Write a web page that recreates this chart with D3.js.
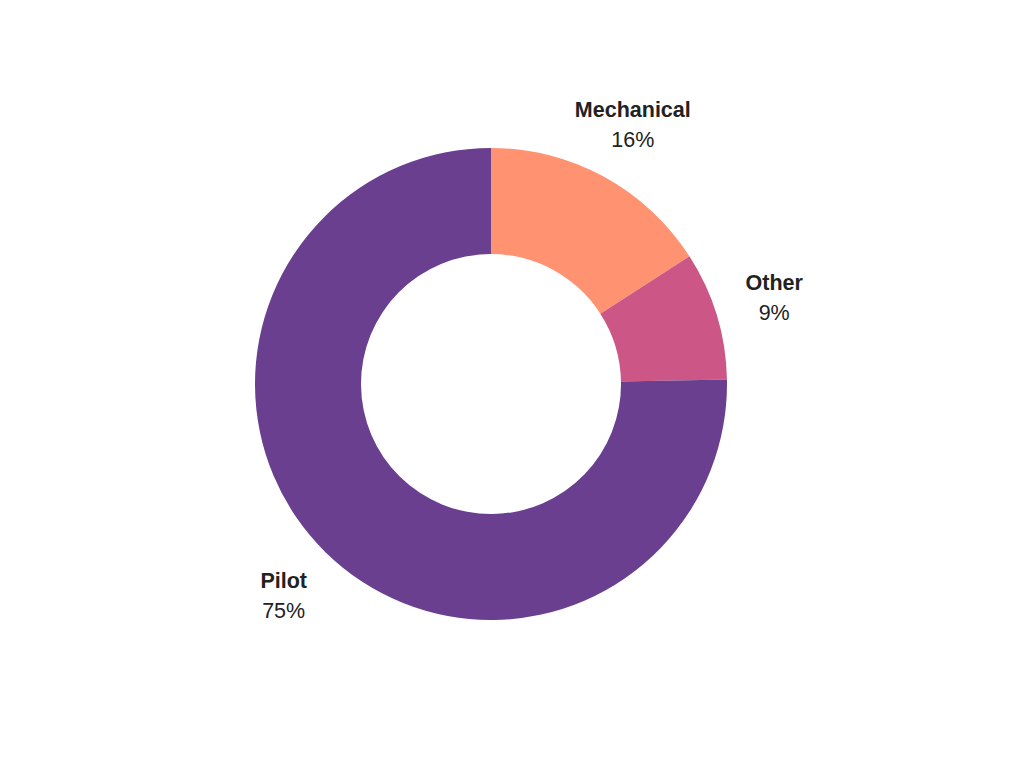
<!DOCTYPE html>
<html>
  <head>
    <meta charset="utf-8">
    <script src="https://d3js.org/d3.v7.min.js"></script>
    <style>
      body { margin: 0; background: #fff; }
      svg text {
        font-family: "Liberation Sans", Arial, sans-serif;
        font-size: 21.5px;
        fill: #222;
        text-anchor: middle;
      }
      svg text.name { font-weight: bold; }
    </style>
  </head>
<body>
  <script type="text/javascript">
    // slice data, clockwise from 12 o'clock
    var causes = ["Mechanical", "Other", "Pilot"];
    var shares = [15.9, 8.8, 75.3];
    var shareLabels = ["16%", "9%", "75%"];
    var colors = ["#FF9270", "#CC5787", "#6A3F8F"];

    var width = 1024,
        height = 768,
        cx = 491,
        cy = 384,
        outerR = 236,
        innerR = 130,
        labelR = 296;

    var data = causes.map(function(c, i) {
      return { cause: c, value: shares[i], label: shareLabels[i], color: colors[i] };
    });

    var svg = d3.select("body")
      .append("svg")
        .attr("width", width)
        .attr("height", height);

    var g = svg.append("g")
      .attr("transform", "translate(" + cx + "," + cy + ")");

    var pie = d3.pie()
      .sort(null)
      .value(function(d) { return d.value; });

    var arc = d3.arc()
      .innerRadius(innerR)
      .outerRadius(outerR);

    var labelArc = d3.arc()
      .innerRadius(labelR)
      .outerRadius(labelR);

    var slices = pie(data);

    g.selectAll("path")
      .data(slices)
      .enter()
      .append("path")
        .attr("d", arc)
        .attr("fill", function(d) { return d.data.color; });

    // two-line labels outside the ring
    var labels = g.selectAll("g.label")
      .data(slices)
      .enter()
      .append("g")
        .attr("class", "label")
        .attr("transform", function(d) {
          var c = labelArc.centroid(d);
          return "translate(" + c[0] + "," + c[1] + ")";
        });

    labels.append("text")
      .attr("class", "name")
      .attr("y", -15)
      .attr("dy", "0.35em")
      .text(function(d) { return d.data.cause; });

    labels.append("text")
      .attr("y", 15)
      .attr("dy", "0.35em")
      .text(function(d) { return d.data.label; });
  </script>
</body>
</html>
